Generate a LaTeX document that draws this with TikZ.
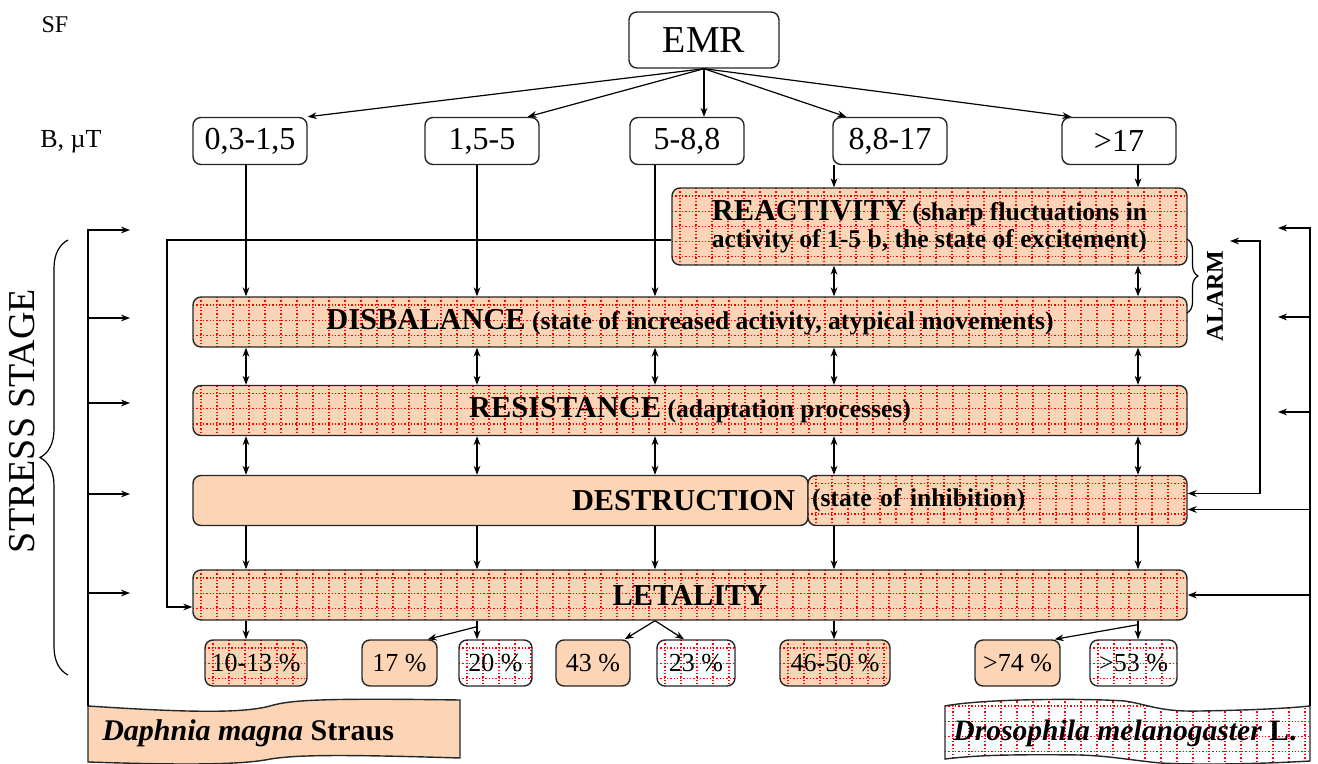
\documentclass[tikz,border=0pt]{standalone}
\usepackage{fontspec}
\setmainfont{Liberation Serif}
\usetikzlibrary{arrows.meta,decorations.pathreplacing}

\newcommand{\stname}[1]{{\fontsize{15.2}{16}\selectfont #1}}

\begin{document}
\begin{tikzpicture}[x=0.5pt,y=-0.5pt,
  >={Stealth[length=4.5pt,width=3.4pt]},
  every path/.style={line width=0.6pt},
  gridline/.style={red,line width=0.65pt,dash pattern=on 0.65pt off 1pt},
  dotgrid/.style={path picture={
    \foreach \k in {0,...,64}
      \draw[gridline] ([xshift=\k*8pt+4pt]path picture bounding box.north west) -- ++(0,-60pt);
    \foreach \k in {0,...,6}
      \draw[gridline] ([yshift=-\k*7.6pt-4pt]path picture bounding box.north west) -- ++(520pt,0);
  }},
  rbox/.style={draw=black!85,line width=0.7pt,rounded corners=4pt,inner sep=0pt},
  rangebox/.style={rbox,fill=white,minimum width=57pt,minimum height=23.5pt,font=\fontsize{16}{18}\selectfont},
  stagebox/.style={rbox,fill=peach,dotgrid,minimum width=497pt,minimum height=25pt,font=\fontsize{12.8}{13.5}\selectfont\bfseries},
  pctbox/.style={rbox,minimum height=23pt,font=\fontsize{13}{15}\selectfont},
  pfill/.style={fill=peach},
  gpfill/.style={fill=peach,dotgrid},
  gwfill/.style={fill=white,dotgrid}]
\definecolor{peach}{HTML}{FBD5B5}
\useasboundingbox (0,0) rectangle (1318,764);

% labels on the left
\node[font=\fontsize{12}{14}\selectfont] (sf) at (55,25) {SF};
\node[font=\fontsize{13}{15}\selectfont] (bmt) at (71,142) {B, µT};
\node[rotate=90,font=\fontsize{19}{22}\selectfont] (stress) at (22,421) {STRESS STAGE};

% source and field ranges
\node[rbox,fill=white,minimum width=75pt,minimum height=28pt,font=\fontsize{19}{21}\selectfont] (emr) at (704,40) {EMR};
\foreach \n/\x/\txt in {1/250/{0,3-1,5},2/482/{1,5-5},3/687/{5-8,8},4/890/{8,8-17},5/1119/{>17}}
  \node[rangebox] (r\n) at (\x,141) {\txt};

\draw[->] (emr.south) -- (r1.north east);
\draw[->] (emr.south) -- ([xshift=-6pt]r2.north east);
\draw[->] (emr.south) -- (emr.south |- r3.north);
\draw[->] (emr.south) -- ([xshift=7pt]r4.north west);
\draw[->] (emr.south) -- ([xshift=5pt]r5.north west);

% stages
\node[stagebox,minimum width=257.5pt,minimum height=38.5pt,align=left] (react) at (929.5,226.5)
  {\stname{REACTIVITY} (sharp fluctuations in\\activity of 1-5 b, the state of excitement)};
\node[stagebox] (disb) at (690,322) {\stname{DISBALANCE} (state of increased activity, atypical movements)};
\node[stagebox] (resi) at (690,410.5) {\stname{RESISTANCE} (adaptation processes)};
\node[rbox,fill=peach,minimum width=307.5pt,minimum height=25pt,text width=294.5pt,align=right,font=\bfseries] (destr) at (500.5,500.5) {\stname{DESTRUCTION}};
\node[stagebox,minimum width=189.5pt,text width=185.5pt,align=left] (inhib) at (997.5,500.5) {(state of inhibition)};
\node[stagebox] (letal) at (690,595) {\stname{LETALITY}};

% columns of arrows
\foreach \n/\x in {1/246,2/477,3/655,4/834,5/1138}
  \coordinate (k\n) at (\x,0);
\foreach \n in {1,2,3}
  \draw[->] (r\n.south -| k\n) -- (disb.north -| k\n);
\foreach \n in {4,5} {
  \draw[->] (r\n.south -| k\n) -- (react.north -| k\n);
  \draw[<->] (react.south -| k\n) -- (disb.north -| k\n);
}
\foreach \n in {1,...,5} {
  \draw[<->] (disb.south -| k\n) -- (resi.north -| k\n);
  \draw[<->] (resi.south -| k\n) -- (destr.north -| k\n);
  \draw[->] (destr.south -| k\n) -- (letal.north -| k\n);
}

% lethality values
\foreach \n/\x/\w/\kind/\txt in {1/256/51pt/gpfill/{10-13 \%},2/399.5/37.5pt/pfill/{17 \%},
    3/495.5/36.5pt/gwfill/{20 \%},4/593/37pt/pfill/{43 \%},5/696/39pt/gwfill/{23 \%},
    6/835/55pt/gpfill/{46-50 \%},7/1017.5/42.5pt/pfill/{>74 \%},8/1133.5/43.5pt/gwfill/{>53 \%}}
  \node[pctbox,\kind,minimum width=\w] (p\n) at (\x,663) {\txt};

\draw[->] (letal.south -| k1) -- (p1.north -| k1);
\draw (letal.south -| k2) -- ++(0,6) coordinate (b2);
\draw[->] (b2) -- ([xshift=-5pt]p2.north east);
\draw[->] (b2) -- (p3.north -| k2);
\draw[->] (letal.south -| k3) -- ([xshift=-3pt]p4.north east);
\draw[->] (letal.south -| k3) -- ([xshift=-6pt]p5.north);
\draw[->] (letal.south -| k4) -- (p6.north -| k4);
\draw[->] (letal.south -| k5) -- (p8.north -| k5);
\draw[->] (letal.south -| k5) ++(0,4) -- ([xshift=-3pt]p7.north east);

% loop from reactivity to lethality
\coordinate (bend) at (167,240);
\draw[->] ([yshift=-6.75pt]react.west) -- (bend) |- ([yshift=-6pt]letal.west);

% species banners
\filldraw[fill=peach,draw=black!85,line width=0.7pt] (88,706) .. controls (180,712) and (240,714) .. (270,706)
  .. controls (290,700) and (320,698) .. (460,700) -- (460,758)
  .. controls (330,754) and (290,755) .. (265,760) .. controls (230,766) and (150,764) .. (88,762) -- cycle;
\filldraw[fill=white,dotgrid,draw=black!85,line width=0.7pt] (945,706) .. controls (980,699) and (1080,698) .. (1125,701)
  .. controls (1150,705) and (1160,712) .. (1200,711) .. controls (1260,710) and (1290,708) .. (1310,706)
  -- (1310,761) .. controls (1260,764) and (1200,765) .. (1160,763)
  .. controls (1130,760) and (1110,756) .. (1080,755) .. controls (1000,754) and (970,756) .. (945,759) -- cycle;
\node[anchor=west,font=\fontsize{15}{17}\selectfont\bfseries] (daph) at (95,733) {\textit{Daphnia magna} Straus};
\node[font=\fontsize{14.8}{17}\selectfont\bfseries] (dros) at (1125,733) {\textit{Drosophila melanogaster} L.};

% left feed lines
\coordinate (dtop) at (88,706);
\foreach \n/\y in {1/230,2/318,3/403,4/494,5/593}
  \coordinate (l\n) at (130,\y);
\draw[->] (dtop) |- (l1);
\foreach \n in {2,...,5}
  \draw[->] (dtop |- l\n) -- (l\n);

% right feed lines
\coordinate (mtop) at (1310,706);
\foreach \n/\y in {1/228,2/317,3/412}
  \coordinate (m\n) at (1278,\y);
\draw[->] (mtop) |- (m1);
\foreach \n in {2,3}
  \draw[->] (mtop |- m\n) -- (m\n);
\draw[->] (mtop |- inhib.east) ++(0,9) -- ([yshift=-4.5pt]inhib.east);
\draw[->] (mtop |- letal.east) -- (letal.east);
\coordinate (alarmtip) at (1230,241);
\draw[<->] (alarmtip) -- ++(30,0) |- ([yshift=3.5pt]inhib.east);

% braces
\draw[decorate,decoration={brace,amplitude=14pt}] (68,675) -- (68,240);
\draw[decorate,decoration={brace,amplitude=5.5pt}] (1187,239) -- (1187,313);
\node[rotate=90,font=\fontsize{12}{14}\selectfont\bfseries] (alarm) at (1215,296) {ALARM};
\end{tikzpicture}
\end{document}
